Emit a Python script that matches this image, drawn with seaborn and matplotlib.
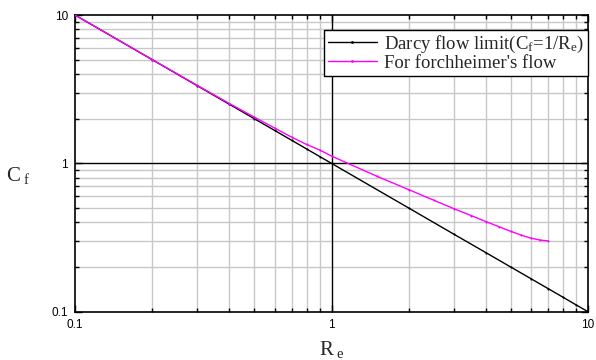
import numpy as np
import pandas as pd
import matplotlib
matplotlib.use("Agg")
import matplotlib.pyplot as plt
from matplotlib.ticker import LogLocator, FixedLocator, FixedFormatter, NullFormatter
import seaborn as sns

# ---- data ----
re_darcy = [0.1, 0.2, 0.3, 0.4, 0.5, 0.6, 0.7, 0.8, 0.9, 1.0, 2.0, 3.0, 4.0, 5.0, 6.0, 7.0, 8.0, 9.0, 10.0]
cf_darcy = [10.0, 5.0, 3.333, 2.5, 2.0, 1.667, 1.429, 1.25, 1.111, 1.0, 0.5, 0.333, 0.25, 0.2, 0.1667, 0.1429, 0.125, 0.111, 0.1]

re_forch = [0.1, 0.2, 0.3, 0.4, 0.5, 0.6, 0.7, 0.8, 0.9, 1.0, 1.5, 2.0, 2.5, 3.0, 3.5, 4.0, 4.5, 5.0, 5.5, 6.0, 6.5, 7.0]
cf_forch = [10.0, 5.01, 3.35, 2.53, 2.05, 1.73, 1.50, 1.34, 1.23, 1.12, 0.82, 0.665, 0.565, 0.495, 0.445, 0.405, 0.374, 0.348, 0.328, 0.313, 0.304, 0.300]

label_darcy = r"Darcy flow limit(C$_{\rm f}$=1/R$_{\rm e}$)"
label_forch = "For forchheimer's flow"

x_ticks = [0.1, 1, 10]
x_ticklabels = ["0.1", "1", "10"]
y_ticks = [0.1, 1, 10]
y_ticklabels = ["0.1", "1", "10"]

df = pd.concat([
    pd.DataFrame({"Re": re_darcy, "Cf": cf_darcy, "series": label_darcy}),
    pd.DataFrame({"Re": re_forch, "Cf": cf_forch, "series": label_forch}),
], ignore_index=True)

sns.set_theme(style="white")
plt.rcParams["font.family"] = ["Liberation Sans", "DejaVu Sans"]
plt.rcParams["mathtext.fontset"] = "custom"
plt.rcParams["mathtext.rm"] = "Liberation Serif"
plt.rcParams["mathtext.it"] = "Liberation Serif"
plt.rcParams["mathtext.default"] = "rm"

fig = plt.figure(figsize=(5.96, 3.6), dpi=100)
ax = fig.add_axes([75/596, 1-311.7/360, (588-75)/596, (311.7-15)/360])

ax.set_xscale("log")
ax.set_yscale("log")
ax.set_xlim(0.1, 10)
ax.set_ylim(0.1, 10)

# grid
ax.xaxis.set_minor_locator(LogLocator(base=10, subs=np.arange(2, 10)))
ax.yaxis.set_minor_locator(LogLocator(base=10, subs=np.arange(2, 10)))
ax.grid(True, which="minor", color="#c8c8c8", lw=1.0)
ax.grid(False, which="major")
ax.axvline(1, color="black", lw=1.0, zorder=1.5)
ax.axhline(1, color="black", lw=1.0, zorder=1.5)

sns.lineplot(data=df, x="Re", y="Cf", hue="series",
             palette={label_darcy: "black", label_forch: "#ff00ff"},
             marker="o", markersize=1.5, markeredgewidth=0, lw=1.0,
             ax=ax, sort=False, zorder=3)

ax.xaxis.set_major_locator(FixedLocator(x_ticks))
ax.xaxis.set_major_formatter(FixedFormatter(x_ticklabels))
ax.yaxis.set_major_locator(FixedLocator(y_ticks))
ax.yaxis.set_major_formatter(FixedFormatter(y_ticklabels))
ax.xaxis.set_minor_formatter(NullFormatter())
ax.yaxis.set_minor_formatter(NullFormatter())

ax.tick_params(which="both", direction="in", top=True, right=True, bottom=True, left=True,
               colors="black", labelsize=8.5, width=1.0)
ax.tick_params(which="major", length=5, pad=5)
ax.tick_params(which="minor", length=3)

for s in ax.spines.values():
    s.set_color("black")
    s.set_linewidth(1.2)

ax.set_xlabel(r"R$_{\ \rm e}$", fontsize=15, family="Liberation Serif", va="center")
ax.xaxis.set_label_coords(0.5, -0.128)
ax.set_ylabel(r"C$_{\ \rm f}$", fontsize=15, family="Liberation Serif", rotation=0,
              ha="center", va="center")
ax.yaxis.set_label_coords(-0.11, 0.46)

leg = ax.legend(loc="upper right", bbox_to_anchor=(1.0, 0.95), frameon=True, fancybox=False,
                edgecolor="black", framealpha=1, prop={"family": "Liberation Serif", "size": 13.5},
                handlelength=2.6, borderpad=0.2, labelspacing=0.0, handletextpad=0.4,
                borderaxespad=0.0)
leg.get_frame().set_linewidth(1.0)
for h in leg.legend_handles:
    h.set_markersize(2)

fig.savefig("out.png", dpi=100)
